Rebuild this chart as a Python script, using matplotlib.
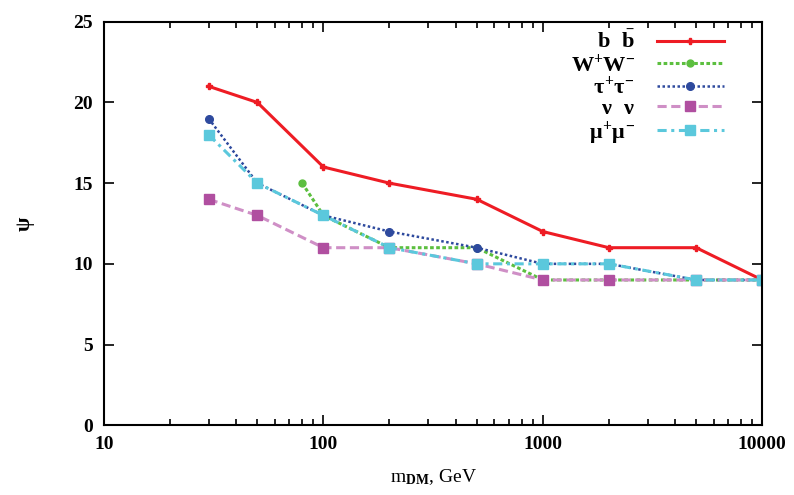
import matplotlib.pyplot as plt
from matplotlib.ticker import LogLocator, NullFormatter, FixedLocator

plt.rcParams["font.family"] = "Liberation Serif"
plt.rcParams["font.weight"] = "bold"
plt.rcParams["mathtext.fontset"] = "custom"
plt.rcParams["mathtext.rm"] = "Liberation Serif:bold"
plt.rcParams["mathtext.it"] = "Liberation Serif:bold"

# data
m_bb = [30, 50, 100, 200, 500, 1000, 2000, 5000, 10000]
psi_bb = [21, 20, 16, 15, 14, 12, 11, 11, 9]

m_ww = [80, 100, 200, 500, 1000, 2000, 5000, 10000]
psi_ww = [15, 13, 11, 11, 9, 9, 9, 9]

m_tau = [30, 50, 100, 200, 500, 1000, 2000, 5000, 10000]
psi_tau = [19, 15, 13, 12, 11, 10, 10, 9, 9]

m_nu = [30, 50, 100, 200, 500, 1000, 2000, 5000, 10000]
psi_nu = [14, 13, 11, 11, 10, 9, 9, 9, 9]

m_mu = [30, 50, 100, 200, 500, 1000, 2000, 5000, 10000]
psi_mu = [18, 15, 13, 11, 10, 10, 10, 9, 9]

labels = [r"$\mathrm{b}\ \ \bar{\mathrm{b}}$", r"$\mathrm{W^{+}W^{-}}$",
          r"$\tau^{+}\tau^{-}$", r"$\nu\ \ \nu$", r"$\mu^{+}\mu^{-}$"]

fig = plt.figure(figsize=(7.94, 4.95), dpi=100)
ax = fig.add_axes([0.131, 0.141, 0.829, 0.815])

ax.plot(m_bb, psi_bb, color="#ee1c24", lw=2.2, ls="-", marker="P", ms=5, label=labels[0])
ax.plot(m_ww, psi_ww, color="#5cbf3f", lw=2.2, ls=(0, (1.2, 0.8)), marker="o", ms=5, label=labels[1])
ax.plot(m_tau, psi_tau, color="#2e4a9e", lw=1.8, ls=(0, (1, 1)), marker="o", ms=5.5, label=labels[2])
ax.plot(m_nu, psi_nu, color="#cf8fc6", lw=2.2, ls=(0, (3, 1.5)), marker="s", ms=6.5,
        mfc="#b04fa0", mec="#b04fa0", label=labels[3])
ax.plot(m_mu, psi_mu, color="#5bc8dc", lw=2.2, ls=(0, (3, 1.5, 1, 1.5)), marker="s", ms=6.5, label=labels[4])

ax.set_xscale("log")
ax.set_xlim(10, 10000)
ax.set_ylim(0, 25)
ax.xaxis.set_major_locator(FixedLocator([10, 100, 1000, 10000]))
ax.set_xticklabels(["10", "100", "1000", "10000"])
ax.xaxis.set_minor_locator(LogLocator(base=10, subs=range(2, 10)))
ax.xaxis.set_minor_formatter(NullFormatter())
ax.set_yticks([0, 5, 10, 15, 20, 25])

ax.tick_params(which="both", direction="in", top=True, right=True, labelsize=14, width=1.2)
ax.tick_params(which="major", length=7, pad=8)
ax.tick_params(which="minor", length=4)
for s in ax.spines.values():
    s.set_linewidth(1.5)

ax.set_xlabel(r"m$_{\mathrm{DM}}$, GeV", fontsize=14, labelpad=10)
ax.set_ylabel(r"$\psi$", fontsize=15, rotation=90, labelpad=26)

ax.legend(loc="upper right", bbox_to_anchor=(0.955, 1.0), frameon=False, markerfirst=False,
          fontsize=16, handlelength=3.0, labelspacing=0.0, borderaxespad=0.0, handletextpad=1.0,
          markerscale=1.0)

fig.savefig("out.png", dpi=100)
